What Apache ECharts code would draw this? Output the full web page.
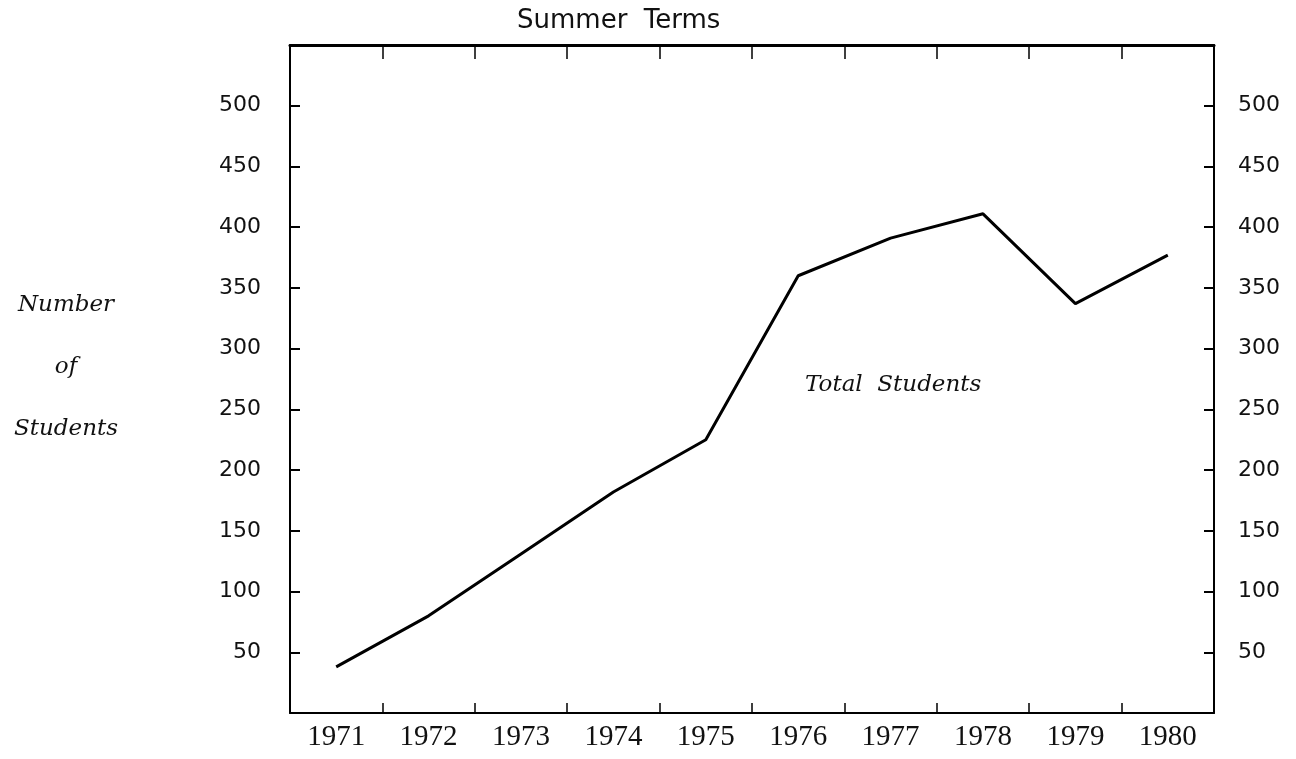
<!DOCTYPE html>
<html>
<head>
<meta charset="utf-8">
<script src="https://cdn.jsdelivr.net/npm/echarts@6/dist/echarts.min.js"></script>
<style>
  html, body { margin: 0; padding: 0; background: #fff; }
  #main { width: 1296px; height: 759px; }
</style>
</head>
<body>
<div id="main"></div>
<script>
var years = ['1971', '1972', '1973', '1974', '1975', '1976', '1977', '1978', '1979', '1980'];
var totalStudents = [38, 80, 131, 182, 225, 360, 391, 411, 337, 377];
var yMin = 0, yMax = 550, yStep = 50;
var sideTitle = ['Number', 'of', 'Students'];

var chart = echarts.init(document.getElementById('main'));

var hideEnds = function (v) {
  return (v === yMin || v === yMax) ? '' : String(v);
};

var valueAxis = function (pos) {
  return {
    type: 'value',
    position: pos,
    min: yMin,
    max: yMax,
    interval: yStep,
    splitLine: { show: false },
    axisLine: { show: true, onZero: false, lineStyle: { color: '#000', width: 2 } },
    axisTick: { show: true, inside: true, length: 10, lineStyle: { color: '#000', width: 2 } },
    axisLabel: {
      show: true,
      formatter: hideEnds,
      color: '#111',
      fontFamily: 'DejaVu Sans',
      fontSize: 22,
      margin: pos === 'left' ? 29 : 24
    }
  };
};

var catAxis = function (pos) {
  var top = pos === 'top';
  return {
    type: 'category',
    data: years,
    position: pos,
    boundaryGap: true,
    axisLine: { show: true, onZero: false, lineStyle: { color: '#000', width: top ? 3 : 2 } },
    axisTick: { show: true, inside: true, interval: 0, length: top ? 14 : 10, lineStyle: { color: '#000', width: 1.5 } },
    axisLabel: { show: !top, interval: 0, color: '#111', fontFamily: 'Liberation Serif', fontSize: 29, margin: 10 }
  };
};

// left side title, one word per row
var sideText = sideTitle.map(function (word, i) {
  return {
    type: 'text',
    x: 66,
    y: 305 + i * 62,
    style: {
      text: word,
      font: 'italic 23px "DejaVu Serif"',
      fill: '#111',
      textAlign: 'center',
      textVerticalAlign: 'middle'
    }
  };
});

var option = {
  backgroundColor: '#fff',
  animation: false,
  title: {
    text: 'Summer  Terms',
    left: 512,
    top: 3,
    textStyle: { fontFamily: 'DejaVu Sans', fontSize: 26, fontWeight: 'normal', color: '#111' }
  },
  grid: { left: 290, right: 82, top: 45, bottom: 46 },
  xAxis: [catAxis('bottom'), catAxis('top')],
  yAxis: [valueAxis('left'), valueAxis('right')],
  series: [{
    name: 'Total Students',
    type: 'line',
    data: totalStudents,
    symbol: 'none',
    lineStyle: { color: '#000', width: 3 }
  }],
  graphic: sideText.concat([{
    type: 'text', left: 805, top: 374,
    style: { text: 'Total  Students', font: 'italic 23px "DejaVu Serif"', fill: '#111' }
  }])
};

chart.setOption(option);
</script>
</body>
</html>
